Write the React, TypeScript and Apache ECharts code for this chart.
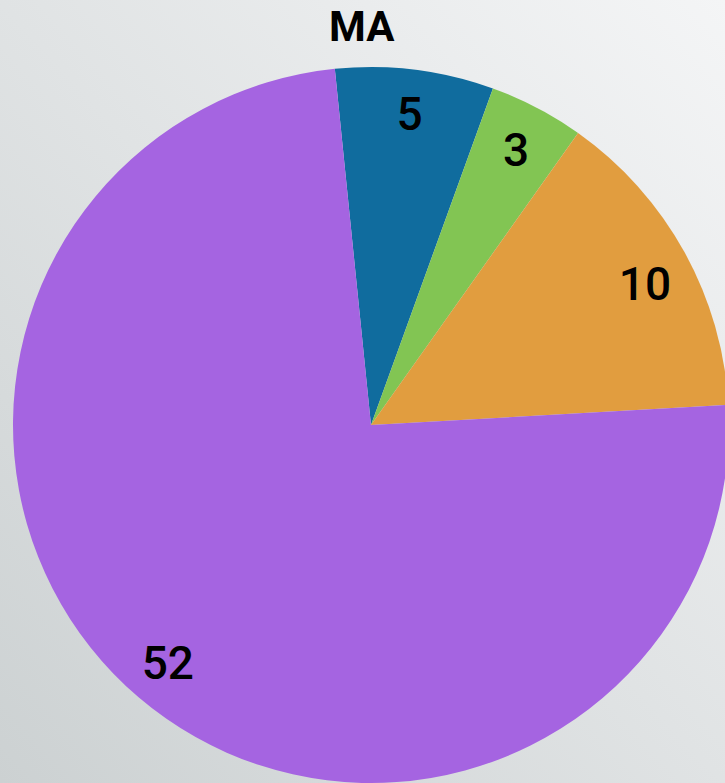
import React, { useEffect, useRef } from "react";
import * as echarts from "echarts";

const titleText = "MA";
const categories = ["A", "B", "C", "D"];
const values = [5, 3, 10, 52];
const colors = ["#106c9e", "#82c553", "#e19d3f", "#a564e1"];

export default function App() {
  const ref = useRef<HTMLDivElement>(null);
  useEffect(() => {
    if (!ref.current) return;
    const chart = echarts.init(ref.current, null, { renderer: "svg" });
    const data = categories.map((c, i) => ({ name: c, value: values[i], itemStyle: { color: colors[i] } }));
    const labelOffsets: Record<number, number[]> = { 1: [0, 2], 2: [0, 10] };
    chart.setOption({
      animation: false,
      backgroundColor: {
        type: "linear",
        x: 1,
        y: 0,
        x2: 0,
        y2: 1,
        colorStops: [
          { offset: 0, color: "#f4f5f6" },
          { offset: 1, color: "#ccd1d2" },
        ],
      },
      title: {
        text: titleText,
        left: 324,
        top: 0,
        textStyle: { fontFamily: "Roboto", fontWeight: "bold", fontSize: 42, color: "#000" },
      },
      series: [
        {
          type: "pie",
          center: [371, 425],
          radius: [0, 358],
          startAngle: 95.8,
          clockwise: true,
          silent: true,
          label: { show: false },
          labelLine: { show: false },
          itemStyle: { borderWidth: 0 },
          data,
        },
        {
          type: "pie",
          center: [371, 425],
          radius: [262, 358],
          startAngle: 95.8,
          clockwise: true,
          silent: true,
          itemStyle: { color: "rgba(0,0,0,0)", borderWidth: 0 },
          label: {
            show: true,
            position: "inside",
            formatter: "{c}",
            fontFamily: "Roboto",
            fontWeight: 500,
            fontSize: 46,
            color: "#000",
          },
          labelLine: { show: false },
          data: categories.map((c, i) => ({
            name: c,
            value: values[i],
            label: labelOffsets[i] ? { offset: labelOffsets[i] } : undefined,
          })),
        },
      ],
    });
    return () => chart.dispose();
  }, []);
  return (
    <div
      ref={ref}
      style={{ position: "fixed", left: 0, top: 0, width: 725, height: 783 }}
    />
  );
}
